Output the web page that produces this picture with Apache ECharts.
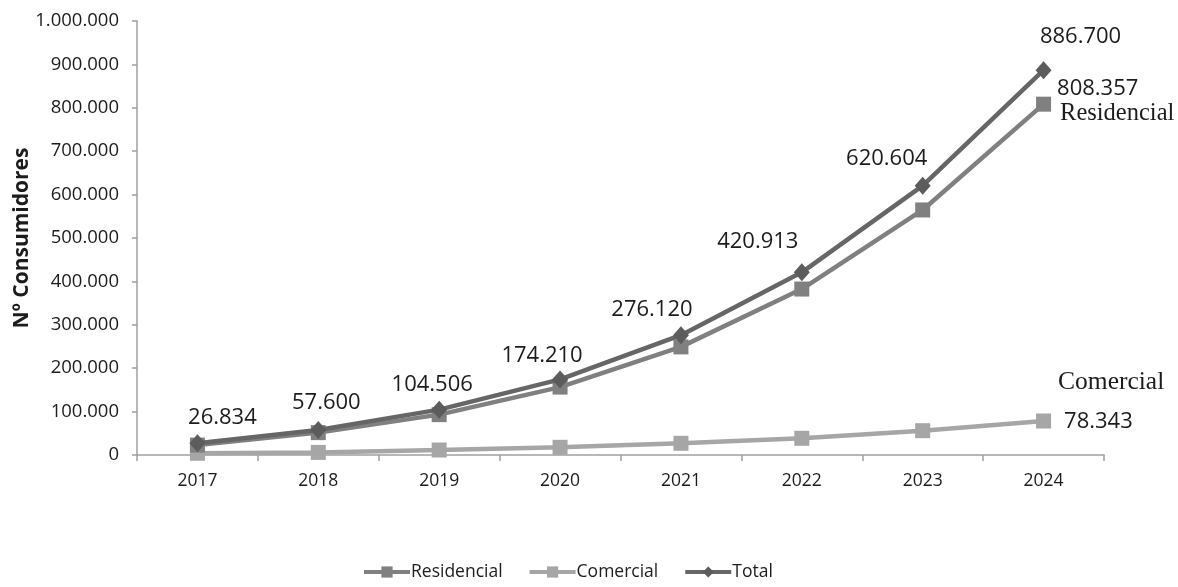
<!DOCTYPE html>
<html>
<head>
<meta charset="utf-8">
<script src="https://cdn.jsdelivr.net/npm/echarts@6/dist/echarts.min.js"></script>
<style>
  html, body { margin: 0; padding: 0; background: #ffffff; }
  #chart { width: 1178px; height: 587px; }
</style>
</head>
<body>
<div id="chart"></div>
<script>
// Consumers per year, by type
const years = ['2017', '2018', '2019', '2020', '2021', '2022', '2023', '2024'];
const residencial = [22800, 51600, 93000, 156500, 249100, 382400, 564600, 808357];
const comercial = [4000, 6000, 11500, 17700, 27000, 38500, 56000, 78343];
const total = [26834, 57600, 104506, 174210, 276120, 420913, 620604, 886700];

// Nudges for the total labels (centre of text relative to its point)
const totalLabelShift = [[25, -26], [8, -27], [-7, -25], [-18, -24], [-29, -25], [-44, -31], [-36, -27], [37, -33]];

const fmt = v => String(v).replace(/\B(?=(\d{3})+(?!\d))/g, '.');

const SANS = '"Open Sans", "Noto Sans", sans-serif';
const SERIF = '"Liberation Serif", "DejaVu Serif", serif';
const TXT = '#1c1c1c';
const last = years.length - 1;

const chart = echarts.init(document.getElementById('chart'), null, { renderer: 'canvas' });

const totalData = total.map((v, i) => ({
  value: v,
  label: {
    show: true,
    position: 'inside',
    offset: totalLabelShift[i],
    formatter: p => fmt(p.value)
  }
}));

const resData = residencial.map((v, i) => i === last ? {
  value: v,
  label: {
    show: true,
    position: 'right',
    distance: 4,
    offset: [2, -3],
    align: 'left',
    formatter: p => '{v|' + fmt(p.value) + '}\n{n|Residencial}',
    rich: {
      v: { fontFamily: SANS, fontSize: 22, color: TXT, lineHeight: 24 },
      n: { fontFamily: SERIF, fontSize: 24.5, color: TXT, lineHeight: 24, padding: [0, 0, 0, 3] }
    }
  }
} : v);

const comData = comercial.map((v, i) => i === last ? {
  value: v,
  label: {
    show: true,
    position: 'right',
    distance: 4,
    offset: [3, -19],
    align: 'left',
    formatter: p => '{n|Comercial}\n{v|' + fmt(p.value) + '}',
    rich: {
      v: { fontFamily: SANS, fontSize: 22, color: TXT, lineHeight: 40, padding: [0, 0, 0, 6] },
      n: { fontFamily: SERIF, fontSize: 25.5, color: TXT, lineHeight: 40 }
    }
  }
} : v);

chart.setOption({
  animation: false,
  backgroundColor: '#ffffff',
  grid: { left: 137, right: 74, top: 21, bottom: 132, containLabel: false, outerBoundsMode: 'none' },
  legend: {
    bottom: 1,
    left: 357,
    itemWidth: 46,
    itemHeight: 14,
    itemGap: 25,
    lineStyle: { width: 4 },
    textStyle: { fontFamily: SANS, fontSize: 17.5, color: TXT, padding: [0, 0, 0, -4] },
    data: ['Residencial', 'Comercial', 'Total']
  },
  xAxis: {
    type: 'category',
    data: years,
    boundaryGap: true,
    axisLine: { lineStyle: { color: '#a0a0a0', width: 1.5 } },
    axisTick: { show: true, alignWithLabel: false, length: 6, lineStyle: { color: '#a0a0a0', width: 1.5 } },
    axisLabel: { fontFamily: SANS, fontSize: 17.5, color: TXT, margin: 17 }
  },
  yAxis: {
    type: 'value',
    min: 0,
    max: 1000000,
    interval: 100000,
    name: 'Nº Consumidores',
    nameLocation: 'middle',
    nameRotate: 90,
    nameGap: 104,
    nameMoveOverlap: false,
    nameTextStyle: { fontFamily: SANS, fontSize: 21, fontWeight: 'bold', color: TXT },
    axisLine: { show: true, lineStyle: { color: '#a0a0a0', width: 1.5 } },
    axisTick: { show: true, length: 5, lineStyle: { color: '#a0a0a0', width: 1.5 } },
    splitLine: { show: false },
    axisLabel: { fontFamily: SANS, fontSize: 18.5, color: TXT, margin: 18, formatter: v => fmt(v) }
  },
  series: [
    {
      name: 'Residencial',
      type: 'line',
      data: resData,
      symbol: 'rect',
      symbolSize: 15,
      showAllSymbol: true,
      z: 3,
      lineStyle: { color: '#808080', width: 4.5 },
      itemStyle: { color: '#808080' },
      label: { show: false }
    },
    {
      name: 'Comercial',
      type: 'line',
      data: comData,
      symbol: 'rect',
      symbolSize: 15,
      showAllSymbol: true,
      z: 2,
      lineStyle: { color: '#a6a6a6', width: 4.5 },
      itemStyle: { color: '#a6a6a6' },
      label: { show: false }
    },
    {
      name: 'Total',
      type: 'line',
      data: totalData,
      symbol: 'diamond',
      symbolSize: [16, 18],
      showAllSymbol: true,
      z: 4,
      lineStyle: { color: '#666666', width: 4.5 },
      itemStyle: { color: '#5c5c5c' },
      label: { fontFamily: SANS, fontSize: 22, color: TXT }
    }
  ]
});
</script>
</body>
</html>
